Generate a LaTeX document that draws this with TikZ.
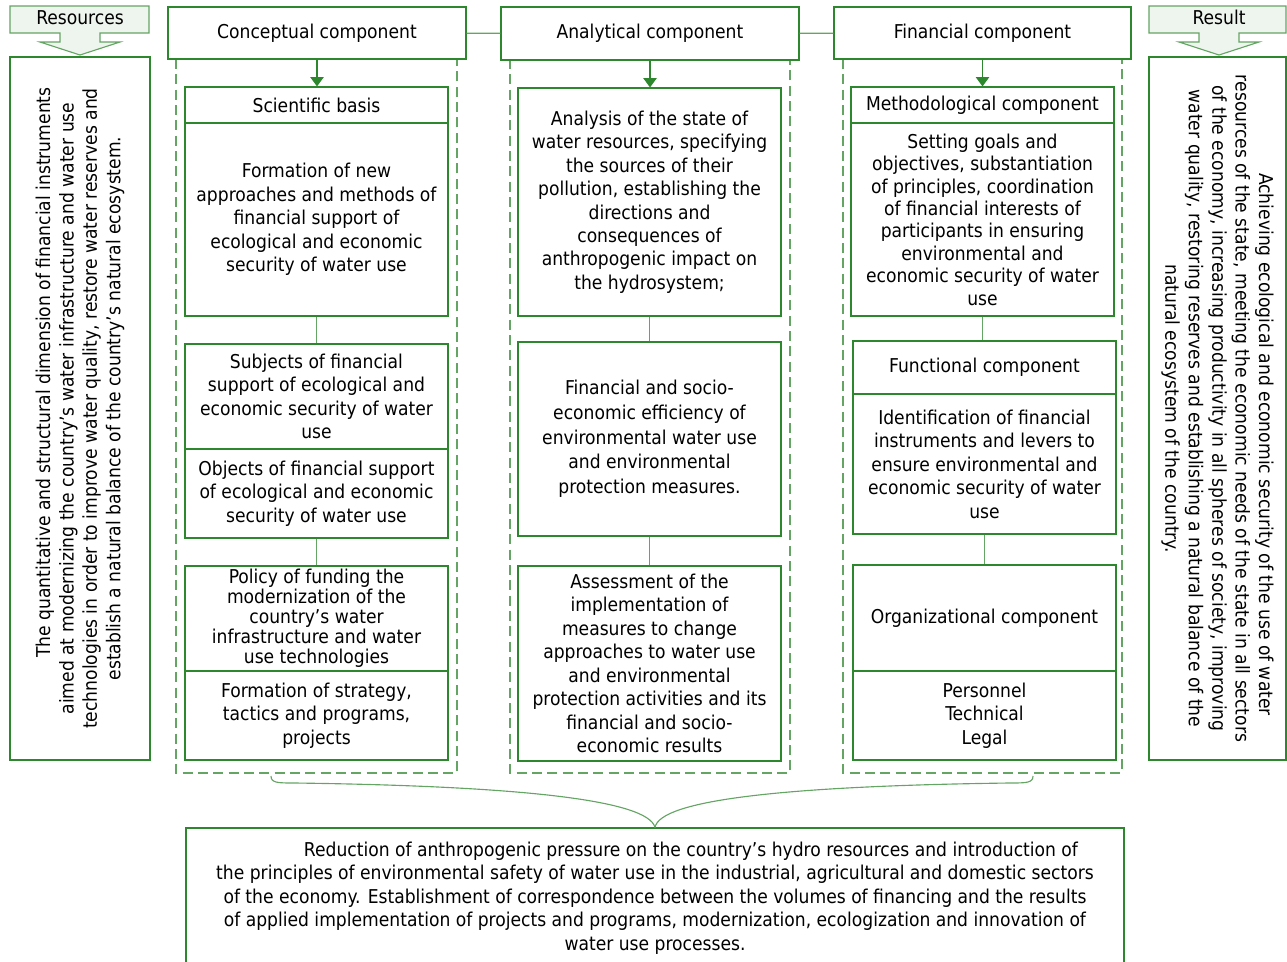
\documentclass[tikz,border=0pt]{standalone}
\usepackage{fontspec}
\setmainfont{DejaVu Sans Condensed}
\usetikzlibrary{arrows.meta,calc}
\definecolor{boxgreen}{RGB}{45,135,45}
\definecolor{linegreen}{RGB}{100,165,100}
\definecolor{callfill}{RGB}{238,244,238}
\newcommand{\boxcolor}{boxgreen}
\newcommand{\linecolor}{linegreen}
\newcommand{\px}{0.75pt}
\newcommand{\colw}{263*\px}
\newcommand{\headw}{298*\px}
\newcommand{\indentfirst}{\hspace*{54pt}}
\tikzset{
  box/.style={draw=\boxcolor, line width=0.85pt, align=center, inner sep=0pt,
    font=\fontsize{14.3}{17.6}\selectfont},
  link/.style={draw=\linecolor, line width=0.85pt},
  pointer/.style={draw=\boxcolor, line width=0.85pt, -{Triangle[width=10pt,length=7pt]}},
  frame/.style={draw=\linecolor, line width=0.85pt, dash pattern=on 7.5pt off 4pt},
  callout/.style={draw=\linecolor, fill=callfill, line width=0.85pt},
  label/.style={inner sep=0pt, font=\fontsize{14.3}{17.6}\selectfont}
}

\begin{document}
\begin{tikzpicture}[x=0.75pt,y=-0.75pt]
\useasboundingbox (0,0) rectangle (1287,961);
%resources and result
\draw[callout] (10,6) -- (149,6) -- (149,33) -- (100,33) -- (100,42) -- (120,42) -- (80,55) -- (40,42) -- (60,42) -- (60,33) -- (10,33) -- cycle;
\node[label] (res) at (80,18) {Resources};
\draw[callout] (1149,6) -- (1286,6) -- (1286,33) -- (1239,33) -- (1239,42) -- (1259,42) -- (1219,55) -- (1179,42) -- (1199,42) -- (1199,33) -- (1149,33) -- cycle;
\node[label] (rsl) at (1219,17) {Result};
\node[box, rotate=90, minimum width=703*\px, minimum height=140*\px] (l) at (80,408.5) {\indentfirst The quantitative and structural dimension of financial instruments\\aimed at modernizing the country's water infrastructure and water use\\technologies in order to improve water quality, restore water reserves and\\establish a natural balance of the country's natural ecosystem.};
\node[box, rotate=-90, minimum width=703*\px, minimum height=137*\px] (r) at (1217.5,408.5) {\indentfirst Achieving ecological and economic security of the use of water\\resources of the state, meeting the economic needs of the state in all sectors\\of the economy, increasing productivity in all spheres of society, improving\\water quality, restoring reserves and establishing a natural balance of the\\natural ecosystem of the country.};
%frames
\draw[frame] (176,59) rectangle (457,773);
\draw[frame] (510,59) rectangle (790,773);
\draw[frame] (843,59) rectangle (1122,773);
%headers
\node[box, fill=white, minimum width=\headw, minimum height=52*\px] (c1) at (317,33) {Conceptual component};
\node[box, fill=white, minimum width=\headw, minimum height=53*\px] (c2) at (650,33.5) {Analytical component};
\node[box, fill=white, minimum width=297*\px, minimum height=52*\px] (c3) at (982.5,33) {Financial component};
\draw[link] (c1) -- (c2);
\draw[link] (c2) -- (c3);
%conceptual
\node[box, minimum width=\colw, minimum height=36*\px] (s1) at (316.5,105) {Scientific basis};
\node[box, minimum width=\colw, minimum height=193*\px] (s2) at (316.5,219.5) {Formation of new\\approaches and methods of\\financial support of\\ecological and economic\\security of water use};
\node[box, minimum width=\colw, minimum height=105*\px] (s3) at (316.5,396.5) {Subjects of financial\\support of ecological and\\economic security of water\\use};
\node[box, minimum width=\colw, minimum height=89*\px] (s4) at (316.5,493.5) {Objects of financial support\\of ecological and economic\\security of water use};
\node[box, minimum width=\colw, minimum height=105*\px, font=\fontsize{14.3}{15}\selectfont] (s5) at (316.5,618.5) {Policy of funding the\\modernization of the\\country's water\\infrastructure and water\\use technologies};
\node[box, minimum width=\colw, minimum height=89*\px] (s6) at (316.5,715.5) {Formation of strategy,\\tactics and programs,\\projects};
\draw[pointer] (c1.south) -- (c1.south |- s1.north);
\draw[link] (s2) -- (s3);
\draw[link] (s4) -- (s5);
%analytical
\node[box, minimum width=\colw, minimum height=228*\px] (a1) at (649.5,202) {Analysis of the state of\\water resources, specifying\\the sources of their\\pollution, establishing the\\directions and\\consequences of\\anthropogenic impact on\\the hydrosystem;};
\node[box, minimum width=\colw, minimum height=194*\px, font=\fontsize{14.3}{18.5}\selectfont] (a2) at (649.5,439) {Financial and socio-\\economic efficiency of\\environmental water use\\and environmental\\protection measures.};
\node[box, minimum width=\colw, minimum height=195*\px] (a3) at (649.5,663.5) {Assessment of the\\implementation of\\measures to change\\approaches to water use\\and environmental\\protection activities and its\\financial and socio-\\economic results};
\draw[pointer] (c2.south) -- (c2.south |- a1.north);
\draw[link] (a1) -- (a2);
\draw[link] (a2) -- (a3);
%financial
\node[box, minimum width=\colw, minimum height=36*\px] (m1) at (982.5,105) {Methodological component};
\node[box, minimum width=\colw, minimum height=193*\px, font=\fontsize{14.3}{16.8}\selectfont] (m2) at (982.5,219.5) {Setting goals and\\objectives, substantiation\\of principles, coordination\\of financial interests of\\participants in ensuring\\environmental and\\economic security of water\\use};
\node[box, minimum width=\colw, minimum height=53*\px] (f1) at (984.5,367.5) {Functional component};
\node[box, minimum width=\colw, minimum height=140*\px] (f2) at (984.5,464) {Identification of financial\\instruments and levers to\\ensure environmental and\\economic security of water\\use};
\node[box, minimum width=\colw, minimum height=106*\px] (o1) at (984.5,618) {Organizational component};
\node[box, minimum width=\colw, minimum height=89*\px] (o2) at (984.5,715.5) {Personnel\\Technical\\Legal};
\draw[pointer] (c3.south) -- (c3.south |- m1.north);
\draw[link] (m2.south) -- (m2.south |- f1.north);
\draw[link] (f2) -- (o1);
%result of the system
\node[box, minimum width=938*\px, minimum height=140*\px] (b) at (655,898) {\indentfirst Reduction of anthropogenic pressure on the country's hydro resources and introduction of\\the principles of environmental safety of water use in the industrial, agricultural and domestic sectors\\of the economy. Establishment of correspondence between the volumes of financing and the results\\of applied implementation of projects and programs, modernization, ecologization and innovation of\\water use processes.};
\coordinate (bl) at (271,776);
\coordinate (br) at (1033,776);
\draw[link] (bl) .. controls (271,783) and (278,783) .. (295,783) .. controls (520,786) and (648,800) .. (b.north);
\draw[link] (br) .. controls (1033,783) and (1026,783) .. (1009,783) .. controls (784,786) and (660,800) .. (b.north);
\end{tikzpicture}
\end{document}
